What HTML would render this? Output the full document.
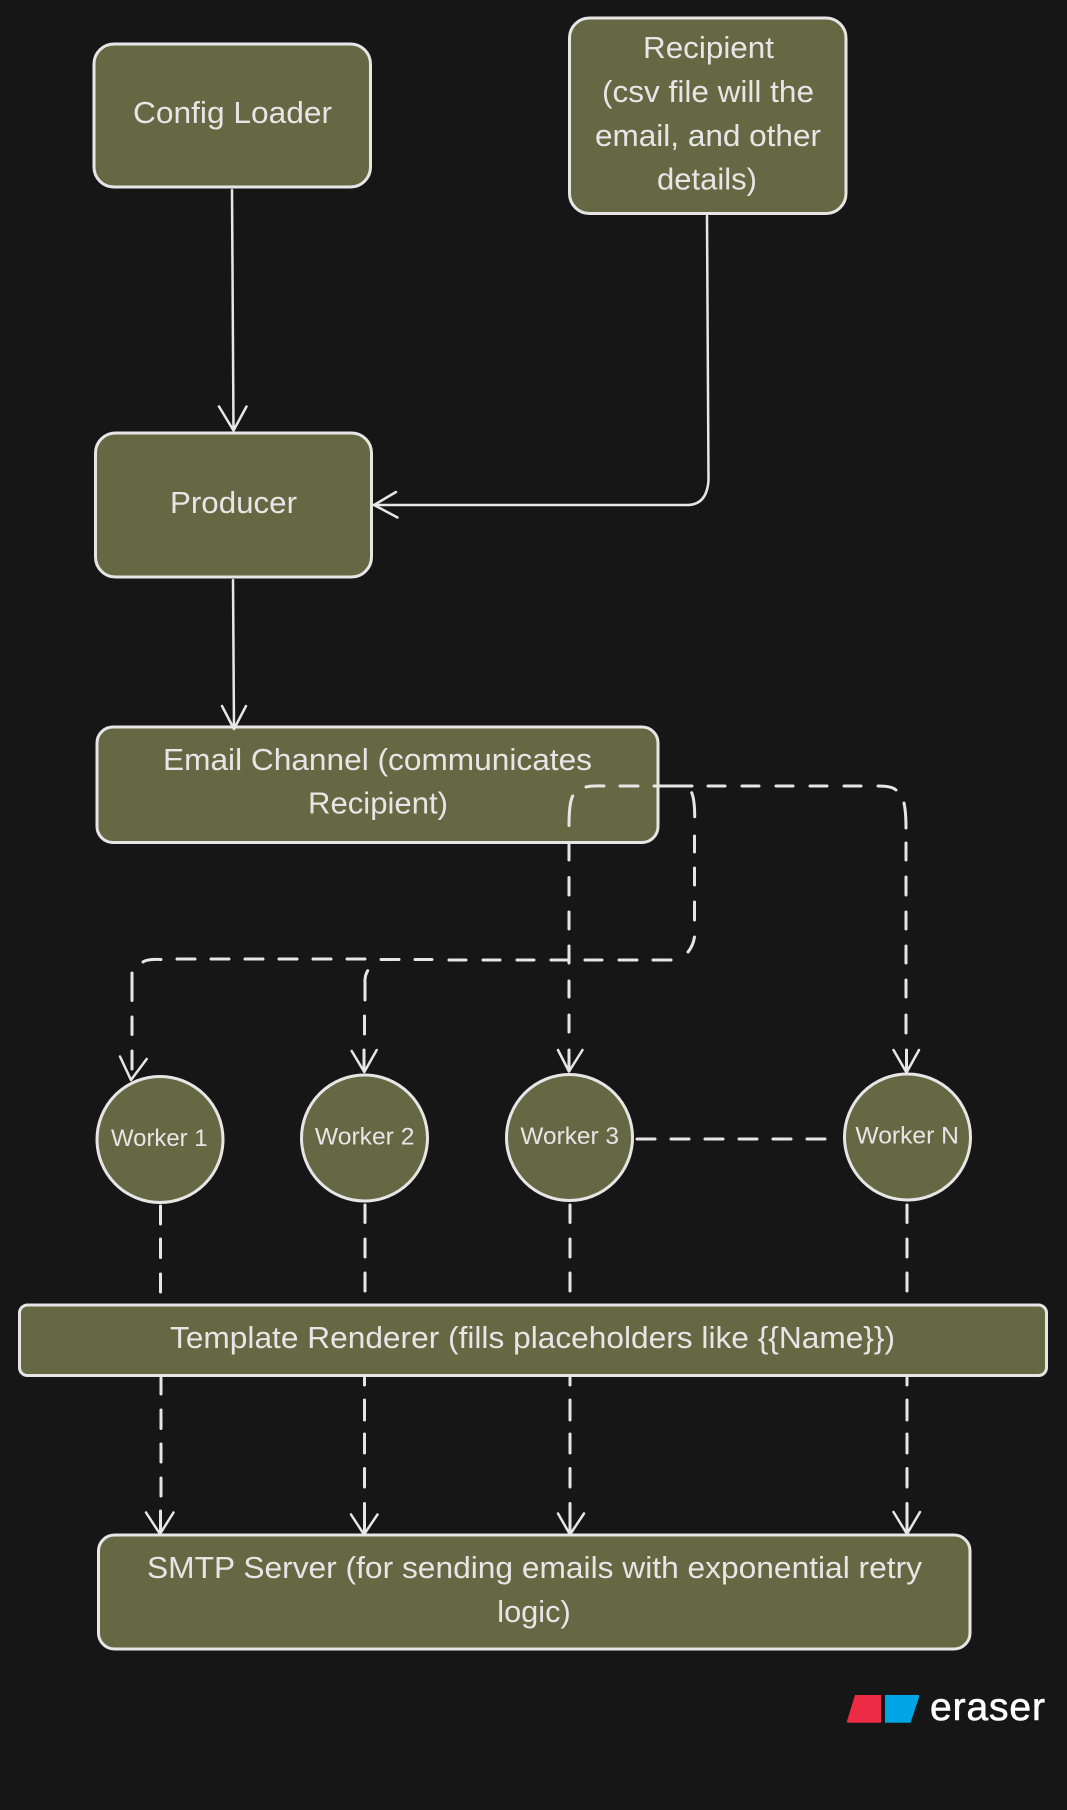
<!DOCTYPE html>
<html>
<head>
<meta charset="utf-8">
<title>Diagram</title>
<style>
html,body{margin:0;padding:0;background:#161616;}
svg{display:block;}
text{font-family:"Liberation Sans",sans-serif;fill:#e6e6e6;text-anchor:middle;}
.b{fill:#666843;stroke:#e6e6e6;stroke-width:3;}
.l{fill:none;stroke:#e6e6e6;stroke-width:2.5;stroke-linecap:round;stroke-linejoin:round;}
.d{fill:none;stroke:#e6e6e6;stroke-width:3;stroke-linecap:round;stroke-linejoin:round;}
</style>
</head>
<body>
<svg width="1067" height="1810" viewBox="0 0 1067 1810" xmlns="http://www.w3.org/2000/svg">
<rect width="1067" height="1810" fill="#161616"/>

<!-- boxes -->
<rect class="b" x="94" y="44" width="276.500" height="143" rx="20"/>
<rect class="b" x="569.500" y="18" width="276.500" height="195.500" rx="20"/>
<rect class="b" x="95.500" y="433" width="276" height="144" rx="20"/>
<rect class="b" x="97" y="727" width="561" height="115.500" rx="16"/>
<rect class="b" x="19.500" y="1305" width="1027" height="70.500" rx="8"/>
<rect class="b" x="98.500" y="1535" width="871.500" height="114" rx="16"/>

<!-- workers -->
<circle class="b" cx="160" cy="1139.500" r="63"/>
<circle class="b" cx="364.500" cy="1138" r="63"/>
<circle class="b" cx="569.500" cy="1137.500" r="63"/>
<circle class="b" cx="907.500" cy="1137" r="63"/>

<!-- solid connectors -->
<path class="l" d="M232 190 L233.500 430"/>
<path class="l" d="M219 406.500 L233.500 430.500 L246.500 406.500"/>
<path class="l" d="M707 216 L708.500 480 Q707 505 687 505 L374 505"/>
<path class="l" d="M396 492 L374 505 L397.500 517.500"/>
<path class="l" d="M233 580 L234 728"/>
<path class="l" d="M222 706 L234 729 L246 706"/>

<!-- dashed: to worker N -->
<path class="d" d="M654 786 H692 M708 786 H725 M742 786 H759 M776 786 H793 M810 786 H827 M844 786 H861 M878 786 Q892 786 896 790"/>
<path class="d" d="M904 803 Q906 812 906 828 M906 843 V860 M906 877 V895 M906 912 V929 M906 946 V963 M906 980 V997 M906 1015 V1033 M906.500 1050 V1071"/>
<path class="l" d="M893.500 1050 L906.500 1072.500 L919 1050"/>

<!-- dashed: to worker 3 -->
<path class="d" d="M586 787 Q592 785.500 604 786 M620 786 H638"/>
<path class="d" d="M572.700 796 Q569 803 569 825.500 M569 845 V860 M569 877.500 V895 M569 912 V929 M569 946 V963 M569 981 V997 M569 1015 V1032 M569 1050 V1071"/>
<path class="l" d="M558 1050 L569 1071.500 L582.500 1050"/>

<!-- dashed: to worker 1 and 2 -->
<path class="d" d="M691.700 792.700 Q694.700 800 694.700 816.700 M694.500 836 V852 M694.500 868 V885 M694.500 902 V920 M694.500 937 Q693 946 688 952"/>
<path class="d" d="M653 960 H671 M619 960 H637 M585 960 H602 M551 960 H568 M517 960 H534 M483 960 H500 M449 960 H466 M415 959.500 H432 M381 959.500 H399 M347 959 H365 M313 959 H331 M279 959 H297 M245 959 H263 M211 959 H229 M177 959 H195 M143 962 Q147 959 161 959.500"/>
<path class="d" d="M132 973 V1000.500 M132 1017 V1034.500 M132 1051 V1069"/>
<path class="l" d="M120 1056.500 L131 1080 L146.700 1059"/>
<path class="d" d="M367.700 970.700 Q364.500 976 365 983 V1000 M364.500 1016 V1034 M364 1050 V1070"/>
<path class="l" d="M351.700 1051 L364.300 1072 L376.700 1050"/>

<!-- dashed: worker 3 to N -->
<path class="d" d="M637 1139 H655 M671 1139 H689 M705 1139 H723 M739 1139 H757 M773 1139 H791 M807 1139 H825"/>

<!-- dashed: workers to template -->
<path class="d" d="M160.500 1206 V1224 M160.500 1239 V1257.500 M160.500 1274 V1292"/>
<path class="d" d="M365 1205 V1222.500 M365 1239 V1257 M365 1273 V1291"/>
<path class="d" d="M570 1205 V1222.500 M570 1239 V1257 M570 1273 V1291"/>
<path class="d" d="M907 1205 V1222.500 M907 1239 V1257 M907 1273 V1291"/>

<!-- dashed: template to SMTP -->
<path class="d" d="M161 1378 V1394 M161 1410 V1428.500 M161 1444 V1462 M161 1478 V1496 M160.500 1511 V1533"/>
<path class="l" d="M146 1512.500 L160 1534 L173.500 1512.500"/>
<path class="d" d="M364.500 1378 V1385 M364.500 1400 V1420 M364.500 1434 V1453 M364.500 1468.500 V1487 M364.500 1503.500 V1533"/>
<path class="l" d="M351 1514.500 L364 1534.500 L377.500 1514.500"/>
<path class="d" d="M570 1378 V1385 M570 1400 V1420 M570 1434 V1453 M570 1468.500 V1487 M570 1503.500 V1533"/>
<path class="l" d="M558 1513.500 L570 1534.500 L584 1513.500"/>
<path class="d" d="M907 1378 V1385 M907 1400 V1420 M907 1434 V1453 M907 1468.500 V1487 M907 1503.500 V1533"/>
<path class="l" d="M893.500 1512 L907 1534 L920 1512"/>

<!-- labels -->
<g font-size="31">
<text x="232.500" y="123" textLength="199" lengthAdjust="spacingAndGlyphs">Config Loader</text>
<text x="708.500" y="58" textLength="131" lengthAdjust="spacingAndGlyphs">Recipient</text>
<text x="708" y="102" textLength="212" lengthAdjust="spacingAndGlyphs">(csv file will the</text>
<text x="708" y="146" textLength="226" lengthAdjust="spacingAndGlyphs">email, and other</text>
<text x="707" y="189.500" textLength="100" lengthAdjust="spacingAndGlyphs">details)</text>
<text x="233.500" y="513" textLength="127" lengthAdjust="spacingAndGlyphs">Producer</text>
<text x="377.500" y="770" textLength="429" lengthAdjust="spacingAndGlyphs">Email Channel (communicates</text>
<text x="378" y="813.500" textLength="140" lengthAdjust="spacingAndGlyphs">Recipient)</text>
<text x="532.500" y="1348" textLength="725" lengthAdjust="spacingAndGlyphs">Template Renderer (fills placeholders like {{Name}})</text>
<text x="534.500" y="1578" textLength="775" lengthAdjust="spacingAndGlyphs">SMTP Server (for sending emails with exponential retry</text>
<text x="534" y="1622" textLength="73.500" lengthAdjust="spacingAndGlyphs">logic)</text>
</g>
<g font-size="24">
<text x="159.300" y="1146" textLength="96.500" lengthAdjust="spacingAndGlyphs">Worker 1</text>
<text x="364.700" y="1144.500" textLength="99.500" lengthAdjust="spacingAndGlyphs">Worker 2</text>
<text x="569.700" y="1144" textLength="98.500" lengthAdjust="spacingAndGlyphs">Worker 3</text>
<text x="907.200" y="1143.500" textLength="103.500" lengthAdjust="spacingAndGlyphs">Worker N</text>
</g>

<!-- eraser logo -->
<path d="M855 1695 H881 V1722.700 H848 Q846.500 1722.700 847 1721 Z" fill="#EE2B45"/>
<path d="M885 1695 H918 Q919.500 1695 919.300 1696.500 L910.500 1722.700 H885 Z" fill="#00A5E6"/>
<text x="987.500" y="1720" font-size="39" textLength="115" lengthAdjust="spacing" style="fill:#ffffff;stroke:#ffffff;stroke-width:0.6">eraser</text>
</svg>
</body>
</html>
